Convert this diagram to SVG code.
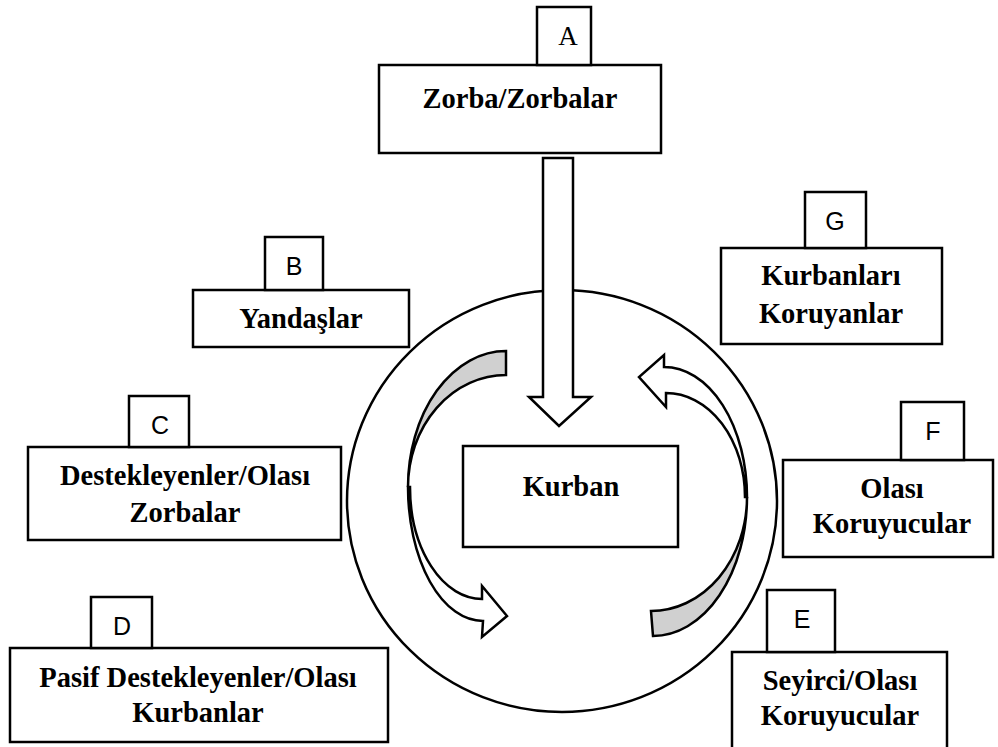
<svg xmlns="http://www.w3.org/2000/svg" width="998" height="747" viewBox="0 0 998 747">
<style>
.box{fill:#fff;stroke:#000;stroke-width:2.5}
.lbl{fill:#fff;stroke:#000;stroke-width:2.5}
.t{font-family:"Liberation Serif","Times New Roman",serif;font-weight:bold;font-size:28.5px;text-anchor:middle;fill:#000}
.s{font-family:"Liberation Sans",Arial,sans-serif;font-size:25px;text-anchor:middle;fill:#000}
.a{font-family:"Liberation Serif","Times New Roman",serif;font-size:27px;text-anchor:middle;fill:#000}
.arr{fill:#fff;stroke:#000;stroke-width:2.5;stroke-linejoin:miter}
.gray{fill:#d0d0d0;stroke:#000;stroke-width:2.5}
</style>
<rect width="998" height="747" fill="#fff"/>
<g id="connectors">
<ellipse cx="562" cy="501" rx="215" ry="211" fill="none" stroke="#000" stroke-width="2.5"/>
<path class="arr" d="M543,158 L573,158 L573,397 L591,397 L559,426 L529,397 L543,397 Z"/>
<path class="gray" d="M506,351 A98,136 0 0 0 408,487 A98,112 0 0 1 506,375 Z"/>
<path class="arr" d="M408,487 A75,134 0 0 0 483,621 L482,637 L507,616 L482,586 L482,599 A72,112 0 0 1 410,487 Z"/>
<path class="gray" d="M653,636 A94,139 0 0 0 747,497 A96,114 0 0 1 651,611 Z"/>
<path class="arr" d="M747,497 A83,130 0 0 0 664,367 L664,355 L639,377 L666,407 L666,393 A79,104 0 0 1 745,497 Z"/>
</g>
<g id="node-kurban">
<rect class="box" x="463" y="446" width="215" height="101"/>
<text class="t" x="571" y="496">Kurban</text>
</g>
<g id="node-A">
<rect class="box" x="379" y="65" width="282" height="88"/>
<rect class="lbl" x="537" y="7" width="54" height="58"/>
<text class="a" x="568" y="45">A</text>
<text class="t" x="520" y="108">Zorba/Zorbalar</text>
</g>
<g id="node-B">
<rect class="box" x="193" y="290" width="216" height="57"/>
<rect class="lbl" x="265" y="237" width="58" height="53"/>
<text class="s" x="294" y="275">B</text>
<text class="t" x="301" y="328">Yandaşlar</text>
</g>
<g id="node-C">
<rect class="box" x="28" y="447" width="313" height="93"/>
<rect class="lbl" x="129" y="396" width="60" height="51"/>
<text class="s" x="160" y="434">C</text>
<text class="t" x="185" y="485">Destekleyenler/Olası</text>
<text class="t" x="185" y="522">Zorbalar</text>
</g>
<g id="node-D">
<rect class="box" x="10" y="648" width="378" height="94"/>
<rect class="lbl" x="91" y="597" width="61" height="51"/>
<text class="s" x="122" y="635">D</text>
<text class="t" x="198" y="687">Pasif Destekleyenler/Olası</text>
<text class="t" x="198" y="722">Kurbanlar</text>
</g>
<g id="node-E">
<rect class="box" x="732" y="652" width="215" height="100"/>
<rect class="lbl" x="767" y="590" width="68" height="62"/>
<text class="s" x="802" y="628">E</text>
<text class="t" x="840" y="690">Seyirci/Olası</text>
<text class="t" x="840" y="725">Koruyucular</text>
</g>
<g id="node-F">
<rect class="box" x="783" y="460" width="210" height="97"/>
<rect class="lbl" x="901" y="402" width="63" height="58"/>
<text class="s" x="933" y="440">F</text>
<text class="t" x="892" y="498">Olası</text>
<text class="t" x="892" y="533">Koruyucular</text>
</g>
<g id="node-G">
<rect class="box" x="721" y="248" width="221" height="96"/>
<rect class="lbl" x="805" y="192" width="61" height="56"/>
<text class="s" x="835" y="230">G</text>
<text class="t" x="831" y="285">Kurbanları</text>
<text class="t" x="831" y="323">Koruyanlar</text>
</g>
</svg>
